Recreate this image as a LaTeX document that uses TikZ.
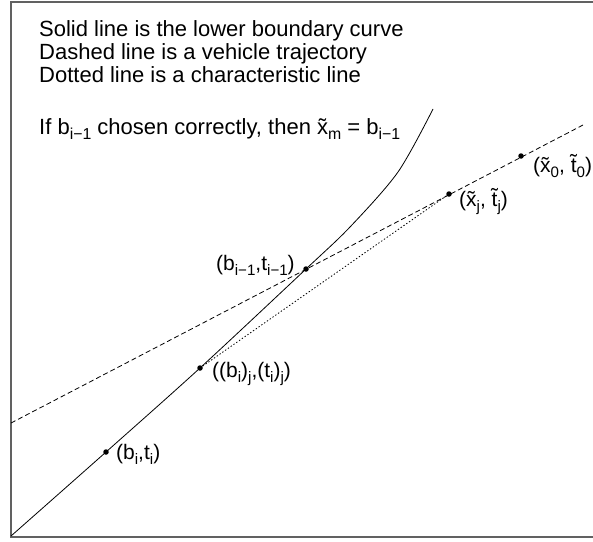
\documentclass[tikz,border=0pt]{standalone}
\usepackage{fontspec}
\setmainfont{Liberation Sans}
\newcommand{\sbs}[1]{\raisebox{-0.27em}{\scalebox{0.72}{#1}}}
\newcommand{\xtil}{x^^^^0303}
\newcommand{\ttil}{t^^^^0303}
\begin{document}
\begin{tikzpicture}[x=1pt,y=-1pt,
  frame/.style={draw=black!62, line width=2pt},
  txt/.style={anchor=base west, inner sep=0pt, font=\fontsize{22}{23}\selectfont},
  lbl/.style={anchor=base west, inner sep=0pt, font=\fontsize{21}{22}\selectfont},
  dotpt/.style={circle, fill=black, inner sep=0pt, minimum size=5.5pt},
  curve/.style={line width=0.8pt},
  traj/.style={line width=0.8pt, dash pattern=on 5pt off 3pt},
  charl/.style={line width=0.8pt, dash pattern=on 1.4pt off 2pt}]
\useasboundingbox (0,0) rectangle (593,541);
\draw[frame] (593,1.5) -- (11,1.5) -- (11,537) -- (593,537);
% text
\node[txt] (t1) at (39,36) {Solid line is the lower boundary curve};
\node[txt] (t2) at (39,59) {Dashed line is a vehicle trajectory};
\node[txt] (t3) at (39,82) {Dotted line is a characteristic line};
\node[txt] (t4) at (39,134) {If b\sbs{i−1} chosen correctly, then \xtil\sbs{m} = b\sbs{i−1}};
% key points
\coordinate (P0) at (11,536);
\coordinate (Pbi) at (106,452);
\coordinate (Pbij) at (200,368);
\coordinate (Pbim) at (306,269);
\coordinate (Pc1) at (350,227);
\coordinate (Pc2) at (398,172);
\coordinate (Ptop) at (433,109);
\coordinate (Pxj) at (449,194);
\coordinate (Px0) at (521,156);
\coordinate (Dl) at (11,423);
\coordinate (Dr) at (583,125);
% lines
\draw[curve] plot[smooth, tension=0.5] coordinates {(P0) (Pbi) (Pbij) (Pbim) (Pc1) (Pc2) (Ptop)};
\draw[traj] (Dl) -- (Dr);
\draw[charl] (Pbij) -- (Pxj);
% dots
\node[dotpt] (bi) at (Pbi) {};
\node[dotpt] (bij) at (Pbij) {};
\node[dotpt] (bim) at (Pbim) {};
\node[dotpt] (xj) at (Pxj) {};
\node[dotpt] (x0) at (Px0) {};
% labels
\node[lbl] (lbi) at (116,459) {(b\sbs{i},t\sbs{i})};
\node[lbl] (lbij) at (212,377) {((b\sbs{i})\sbs{j},(t\sbs{i})\sbs{j})};
\node[lbl] (lbim) at (216,270) {(b\sbs{i−1},t\sbs{i−1})};
\node[lbl] (lxj) at (459,206) {(\xtil\sbs{j}, \ttil\sbs{j})};
\node[lbl] (lx0) at (533,172) {(\xtil\sbs{0}, \ttil\sbs{0})};
\end{tikzpicture}
\end{document}
